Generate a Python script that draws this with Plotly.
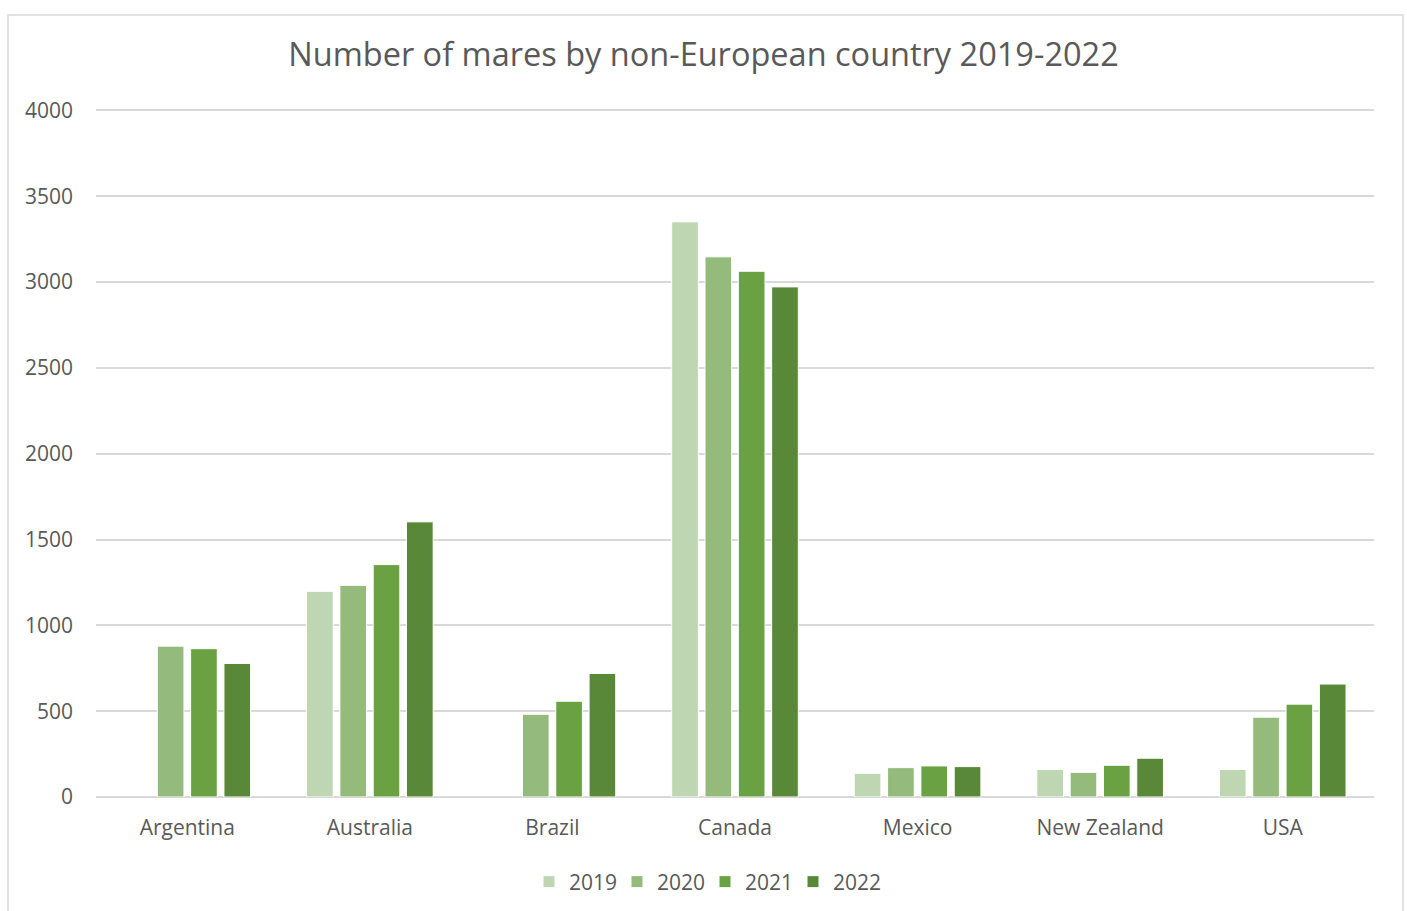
import plotly.graph_objects as go

countries = ["Argentina", "Australia", "Brazil", "Canada", "Mexico", "New Zealand", "USA"]
years = ["2019", "2020", "2021", "2022"]
v2019 = [None, 1198, None, 3351, 138, 160, 160]
v2020 = [879, 1233, 482, 3147, 171, 144, 465]
v2021 = [864, 1354, 558, 3063, 181, 185, 541]
v2022 = [778, 1603, 720, 2972, 177, 226, 658]
series = [v2019, v2020, v2021, v2022]
colors = ["#BED6B1", "#94BB7C", "#6AA243", "#588838"]
y_ticks = [0, 500, 1000, 1500, 2000, 2500, 3000, 3500, 4000]

FONT = "Open Sans"
TXT = "#595959"

fig = go.Figure()
for yr, vals, col in zip(years, series, colors):
    fig.add_trace(go.Bar(
        x=countries, y=vals, name=yr,
        marker=dict(color=col, line=dict(color="white", width=1)),
    ))

PH = 911 - 107 - 114  # plot height in px
fig.update_layout(
    width=1407, height=911,
    paper_bgcolor="white", plot_bgcolor="white",
    margin=dict(l=96, r=33, t=107, b=114, autoexpand=False),
    barmode="group", bargap=0.27, bargroupgap=0.2,
    title=dict(text="Number of mares by non-European country 2019-2022",
               x=0.5, xanchor="center", y=1 - 55 / 911, yanchor="middle",
               font=dict(family=FONT, size=32.5, color=TXT)),
    font=dict(family=FONT, color=TXT),
    legend=dict(orientation="h", x=0.5 - 30 / 1278, xanchor="center",
                yref="container", y=1 - 882 / 911, yanchor="middle",
                font=dict(family=FONT, size=21, color=TXT), itemwidth=30,
                entrywidth=43, entrywidthmode="pixels",
                traceorder="normal"),
    xaxis=dict(showgrid=False, showline=False, ticks="", automargin=False,
               tickfont=dict(family=FONT, size=21, color=TXT),
               ticklabelstandoff=16),
    yaxis=dict(range=[0, 4020], tickvals=y_ticks, showgrid=True, automargin=False,
               gridcolor="#D9D9D9", gridwidth=1.5, zeroline=True,
               zerolinecolor="#D9D9D9", zerolinewidth=1.5, showline=False,
               ticks="", tickfont=dict(family=FONT, size=21, color=TXT),
               ticklabelstandoff=22),
    shapes=[dict(type="rect", xref="paper", yref="paper",
                 x0=(8 - 96) / 1278, x1=(1403 - 96) / 1278,
                 y0=(797 - 930 - 3) / PH, y1=(797 - 12 - 3) / PH,
                 line=dict(color="#D9D9D9", width=1.5), fillcolor="rgba(0,0,0,0)",
                 layer="below")],
)

fig.write_html("out.html", config={"displayModeBar": False},
               post_script="document.body.style.margin='0';")
